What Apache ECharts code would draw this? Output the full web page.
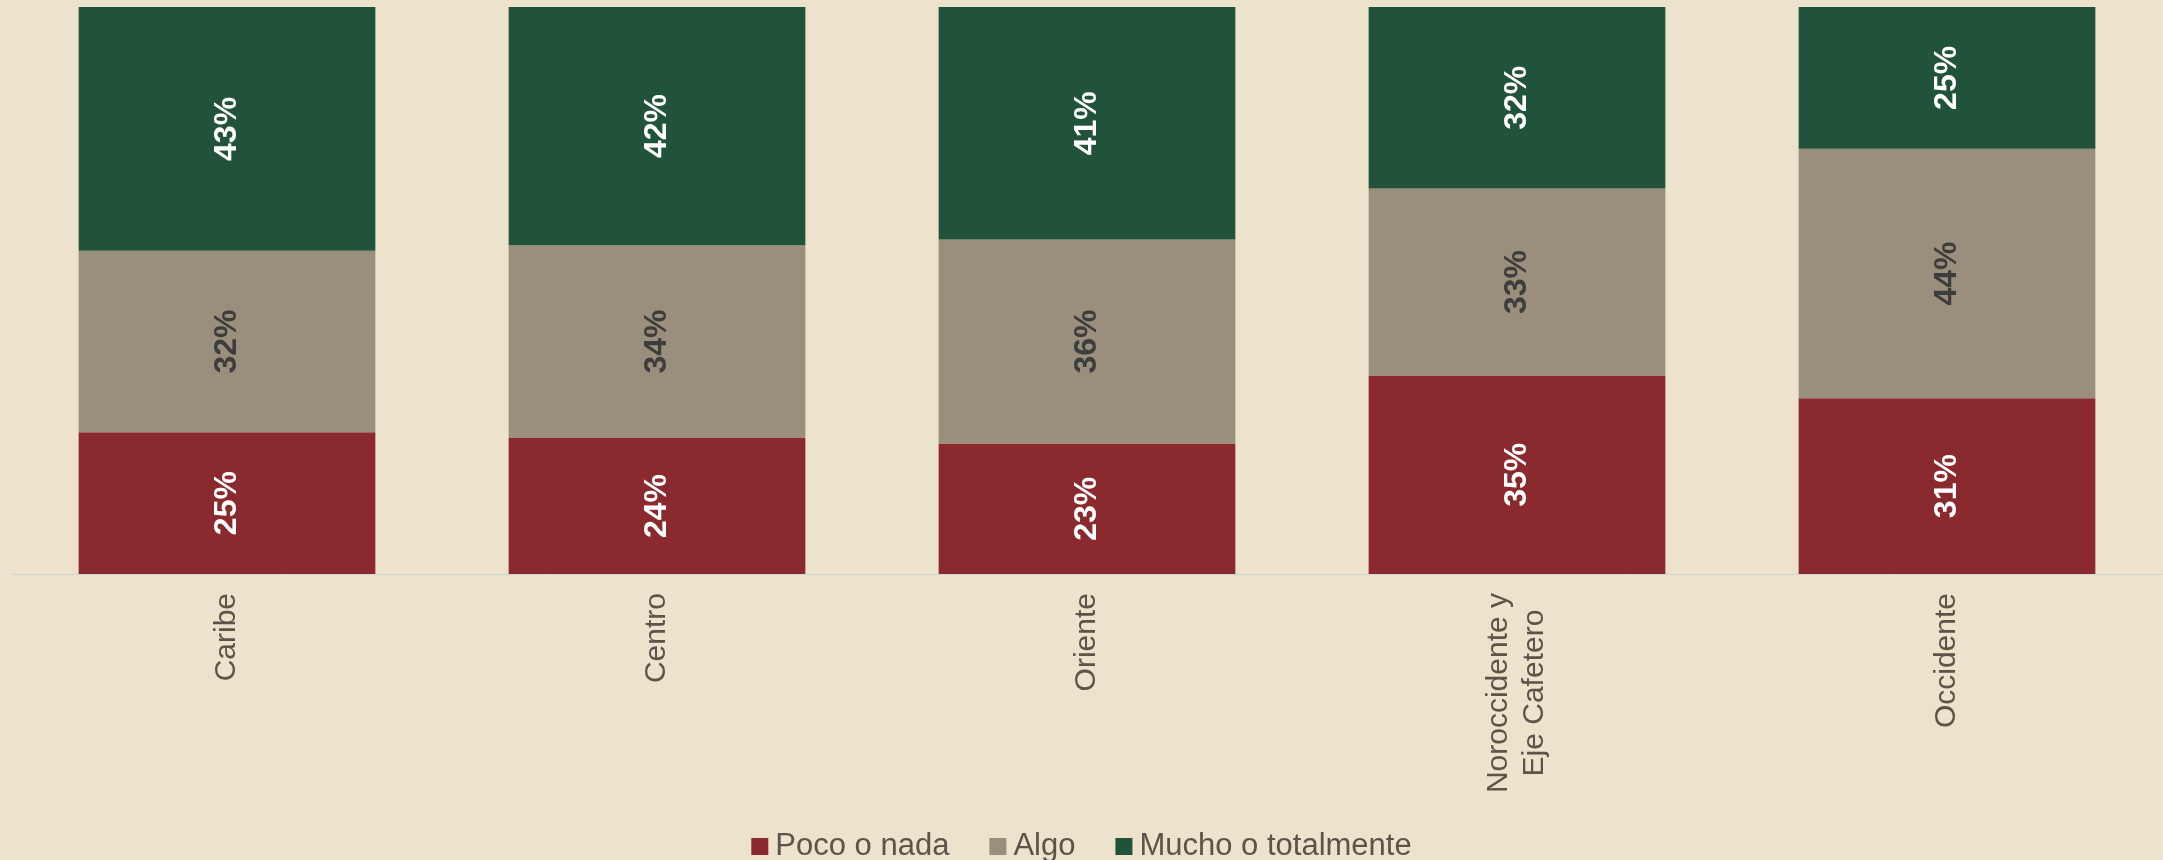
<!DOCTYPE html>
<html>
	<head>
		<meta charset="utf-8">
		<title>Confianza por región</title>
		<script src="https://cdn.jsdelivr.net/npm/echarts@6/dist/echarts.min.js"></script>
		<style>
			html, body { margin: 0; padding: 0; background: #EDE2CB; }
		</style>
	</head>
	<body>
		<div id="main" style="width: 2163px;height:860px;"></div>
		<script type="text/javascript">
			// datos del gráfico
			var regiones = ['Caribe', 'Centro', 'Oriente', 'Noroccidente y\nEje Cafetero', 'Occidente'];
			var pocoONada = [25, 24, 23, 35, 31];
			var algo = [32, 34, 36, 33, 44];
			var muchoOTotalmente = [43, 42, 41, 32, 25];

			var myChart = echarts.init(document.getElementById('main'));

			var fuente = "'Liberation Sans', Arial, sans-serif";

			function etiqueta(color) {
				return {
					show: true,
					position: 'inside',
					rotate: 90,
					formatter: '{c}%',
					color: color,
					fontSize: 32,
					fontWeight: 'bold',
					fontFamily: fuente
				};
			}

			var option = {
				animation: false,
				backgroundColor: '#EDE2CB',
				grid: {
					top: 7,
					left: 12,
					right: 1,
					bottom: 286
				},
				legend: {
					top: 826,
					left: 'center',
					icon: 'rect',
					itemWidth: 17,
					itemHeight: 17,
					itemGap: 40,
					textStyle: {
						fontSize: 31,
						color: '#5c5448',
						fontFamily: fuente,
						padding: [0, 0, 0, 2]
					},
					data: ['Poco o nada', 'Algo', 'Mucho o totalmente']
				},
				xAxis: {
					type: 'category',
					data: regiones,
					axisTick: { show: false },
					axisLine: { lineStyle: { color: '#cdd3dd', width: 1 } },
					axisLabel: {
						rotate: 90,
						margin: 19,
						interval: 0,
						fontSize: 30,
						color: '#5c5448',
						fontFamily: fuente,
						// lineas centradas entre si
						formatter: function (v) {
							return v.split('\n').map(function (l) { return '{c|' + l + '}'; }).join('\n');
						},
						rich: {
							c: {
								align: 'center',
								fontSize: 30,
								lineHeight: 36,
								color: '#5c5448',
								fontFamily: fuente
							}
						}
					}
				},
				yAxis: {
					type: 'value',
					min: 0,
					max: 100,
					show: false,
					splitLine: { show: false }
				},
				series: [
					{
						name: 'Poco o nada',
						type: 'bar',
						stack: 'total',
						barWidth: '69%',
						itemStyle: { color: '#8B2A2E' },
						label: etiqueta('#ffffff'),
						data: pocoONada
					},
					{
						name: 'Algo',
						type: 'bar',
						stack: 'total',
						itemStyle: { color: '#9A8F7C' },
						label: etiqueta('#3d3d3d'),
						data: algo
					},
					{
						name: 'Mucho o totalmente',
						type: 'bar',
						stack: 'total',
						itemStyle: { color: '#21523A' },
						label: etiqueta('#ffffff'),
						data: muchoOTotalmente
					}
				]
			};

			option && myChart.setOption(option);
		</script>
	</body>
</html>
